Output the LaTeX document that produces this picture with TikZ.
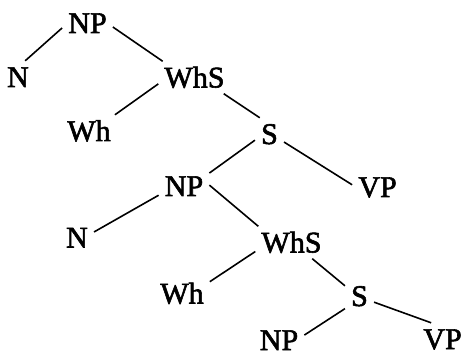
\documentclass[tikz,border=0pt]{standalone}
\usepackage{pgf,tikz}
\usepackage{fontspec}
\setmainfont[FakeBold=2]{Liberation Serif}
\usetikzlibrary{arrows}
\usetikzlibrary{positioning}

\tikzset{
  cat/.style={inner sep=6pt,text height=20pt,text depth=0pt,
    font=\fontsize{30}{36}\selectfont},
  branch/.style={line width=1.6pt}
}

\begin{document}
\begin{tikzpicture}[x=1pt,y=-1pt]
\useasboundingbox (0,0) rectangle (463,363);

\node[cat] (np1) at (87.5,23) {NP};
\node[cat] (n1) at (18,77) {N};
\node[cat] (whs1) at (194.5,77.5) {WhS};
\node[cat] (wh1) at (89,131) {Wh};
\node[cat] (s1) at (269.5,134) {S};
\node[cat] (np2) at (184,186) {NP};
\node[cat] (vp2) at (377.5,187) {VP};
\node[cat] (n2) at (77,237.5) {N};
\node[cat] (whs2) at (291.5,242.5) {WhS};
\node[cat] (wh2) at (182,293.5) {Wh};
\node[cat] (s2) at (359.5,296) {S};
\node[cat] (np3) at (279,340) {NP};
\node[cat] (vp3) at (442.5,339) {VP};

\foreach \a/\b in {np1.191/n1.66,np1.-9/whs1.153,whs1.190/wh1.32,
    whs1.-29/s1.121,s1.203/np2.27,s1.-29/vp2.175,np2.200/n2.18,
    np2.2/whs2.154,whs2.194/wh2.23,whs2.-38/s2.145,s2.221/np3.11,
    s2.-23/vp3.125}
    \draw[branch] (\a) -- (\b);

\end{tikzpicture}
\end{document}
